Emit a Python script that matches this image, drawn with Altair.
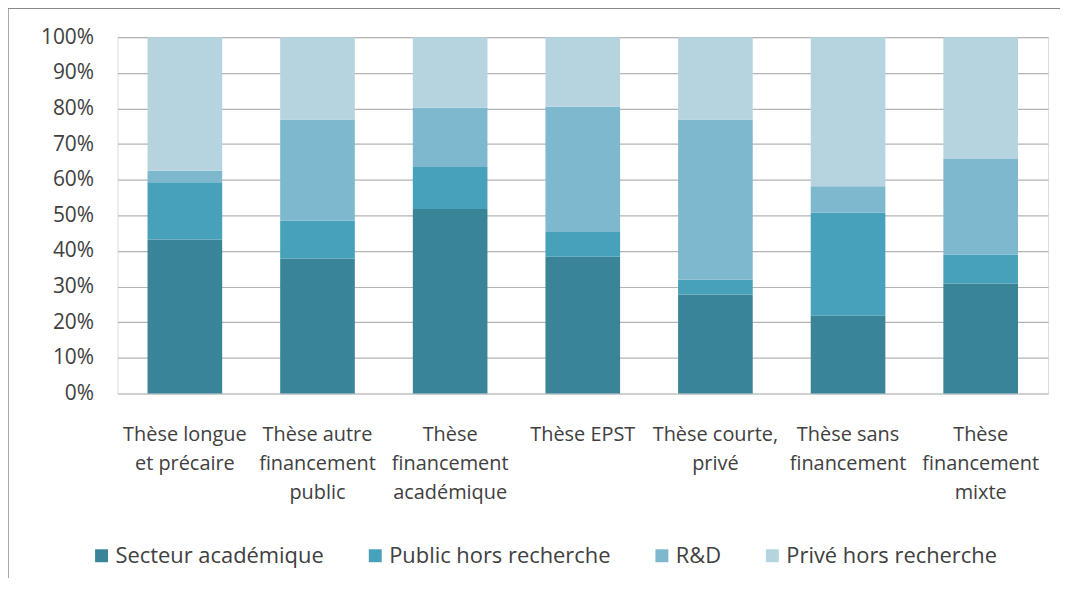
import altair as alt
import pandas as pd

categories = [
    "Thèse longue\net précaire",
    "Thèse autre\nfinancement\npublic",
    "Thèse\nfinancement\nacadémique",
    "Thèse EPST",
    "Thèse courte,\nprivé",
    "Thèse sans\nfinancement",
    "Thèse\nfinancement\nmixte",
]
series = ["Secteur académique", "Public hors recherche", "R&D", "Privé hors recherche"]
colors = ["#3A8498", "#47A1BA", "#7EB8CE", "#B6D4DF"]

secteur_academique = [43.2, 37.9, 51.8, 38.4, 27.8, 21.8, 30.9]
public_hors_recherche = [16.1, 10.6, 11.8, 6.9, 4.1, 28.9, 8.1]
r_and_d = [3.2, 28.4, 16.6, 35.2, 45.0, 7.5, 26.8]
prive_hors_recherche = [37.5, 23.1, 19.8, 19.5, 23.1, 41.8, 34.2]

y_ticks = [0, 0.1, 0.2, 0.3, 0.4, 0.5, 0.6, 0.7, 0.8, 0.9, 1.0]

values = [secteur_academique, public_hors_recherche, r_and_d, prive_hors_recherche]
rows = []
for si, (s, vals) in enumerate(zip(series, values)):
    for c, v in zip(categories, vals):
        rows.append({"cat": c, "serie": s, "val": v / 100.0, "ord": si})
df = pd.DataFrame(rows)

FONT = "Open Sans"
TXT = "#404040"

bars = alt.Chart(df).mark_bar(size=75).encode(
    x=alt.X("cat:N", sort=categories, title=None,
            scale=alt.Scale(paddingInner=0.44, paddingOuter=0.228),
            axis=alt.Axis(labelAngle=0, ticks=False, domain=False,
                          labelExpr="split(datum.label, '\\n')",
                          labelFont=FONT, labelFontSize=20, labelColor=TXT,
                          labelLineHeight=29, labelPadding=31, labelLimit=200,
                          grid=False)),
    y=alt.Y("val:Q", stack="zero", title=None,
            scale=alt.Scale(domain=[0, 1], nice=False),
            axis=alt.Axis(values=y_ticks, format=".0%", ticks=False, domain=False,
                          labelFont=FONT, labelFontSize=21, labelColor=TXT,
                          labelPadding=24, gridColor="#B4B4B4", gridWidth=1.2)),
    color=alt.Color("serie:N", sort=series,
                    scale=alt.Scale(domain=series, range=colors),
                    legend=alt.Legend(title=None, orient="none", direction="horizontal",
                                      legendX=-27, legendY=510,
                                      symbolType="square", symbolSize=169,
                                      symbolStrokeWidth=0, symbolOpacity=1,
                                      labelFont=FONT, labelFontSize=22, labelColor=TXT,
                                      labelLimit=400,
                                      labelOffset=3, columnPadding=40)),
    order=alt.Order("ord:Q", sort="ascending"),
)

border_df = pd.DataFrame({"k": [0]})
left_border = alt.Chart(border_df).mark_rule(color="#8A8A8A", strokeWidth=1.5).encode(
    x=alt.value(-110), y=alt.value(-29), y2=alt.value(600))
top_border = alt.Chart(border_df).mark_rule(color="#8A8A8A", strokeWidth=1.5).encode(
    x=alt.value(-110), x2=alt.value(960), y=alt.value(-29))

chart = alt.layer(bars, left_border, top_border).properties(
    width=935, height=358,
    autosize=alt.AutoSizeParams(type="none"),
    padding={"left": 110, "top": 28, "right": 12, "bottom": 184},
).configure_view(stroke=None).configure(background="white")

chart.save("out.html", embed_options={"renderer": "svg", "actions": False})
